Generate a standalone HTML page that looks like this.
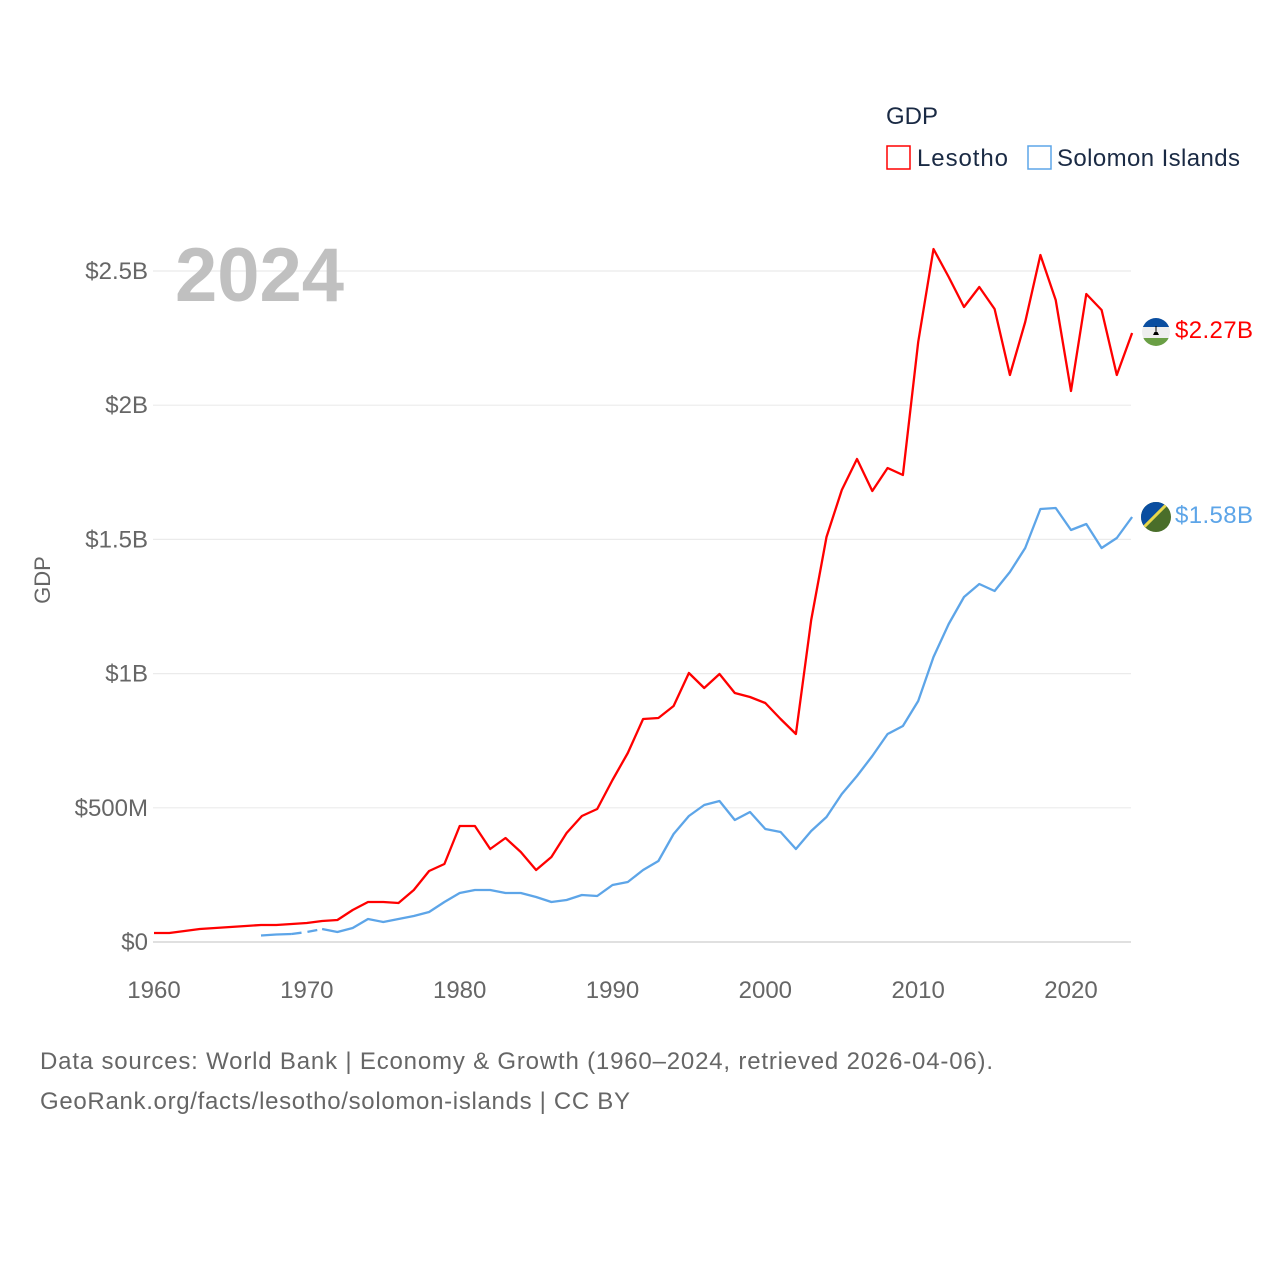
<!DOCTYPE html>
<html><head><meta charset="utf-8">
<style>
html,body{margin:0;padding:0;background:#fff;}
body{width:1280px;height:1280px;overflow:hidden;font-family:"Liberation Sans",sans-serif;}
svg text{font-family:"Liberation Sans",sans-serif;}
</style></head>
<body>
<svg id="chart" width="1280" height="1280" viewBox="0 0 1280 1280">
  <g id="grid"></g>
  <g id="yticks"></g>
  <g id="xticks"></g>
  <text x="175" y="301" font-size="76" font-weight="bold" fill="#c0c0c0">2024</text>
  <text x="50" y="580" font-size="22" fill="#666" transform="rotate(-90 50 580)" text-anchor="middle">GDP</text>
  <g id="series"></g>
  <g>
    <text x="886" y="124" font-size="24" fill="#1a2a44">GDP</text>
    <g>
      <rect x="887" y="146" width="23" height="23" fill="none" stroke="#ff0000" stroke-width="1.5"/>
      <text x="917" y="166" font-size="24" fill="#1a2a44" textLength="91">Lesotho</text>
    </g>
    <g>
      <rect x="1028" y="146" width="23" height="23" fill="none" stroke="#5da5e8" stroke-width="1.5"/>
      <text x="1057" y="166" font-size="24" fill="#1a2a44" textLength="183">Solomon Islands</text>
    </g>
  </g>
  <g>
    <clipPath id="c1"><circle cx="1156" cy="332" r="14"/></clipPath>
    <g clip-path="url(#c1)">
      <rect x="1142" y="318" width="28" height="9" fill="#0a4ea0"/>
      <rect x="1142" y="327" width="28" height="11" fill="#eee"/>
      <rect x="1142" y="338" width="28" height="8" fill="#6a9f45"/>
      <path d="M1153 335h6l-1.5-3h-3z M1155.5 326h1v6h-1z" fill="#000"/>
    </g>
  </g>
  <text x="1175" y="338" font-size="24" fill="#ff0000" textLength="78">$2.27B</text>
  <g>
    <clipPath id="c2"><circle cx="1156" cy="517" r="15"/></clipPath>
    <g clip-path="url(#c2)">
      <rect x="1141" y="502" width="30" height="30" fill="#4a6e2a"/>
      <path d="M1141 502h30L1141 532z" fill="#0a4ea0"/>
      <path d="M1170 501L1140 531" stroke="#e8d84a" stroke-width="3"/>
    </g>
  </g>
  <text x="1175" y="523" font-size="24" fill="#5da5e8" textLength="78">$1.58B</text>
  <text x="40" y="1069" font-size="24" fill="#666" textLength="953">Data sources: World Bank | Economy &amp; Growth (1960–2024, retrieved 2026-04-06).</text>
  <text x="40" y="1109" font-size="24" fill="#666" textLength="590">GeoRank.org/facts/lesotho/solomon-islands | CC BY</text>
</svg>
<script>
const years = [];
for (let y = 1960; y <= 2024; y++) years.push(y);
const lesothoPx = [933,933,931,929,928,927,926,925,925,924,923,921,920,910,902,902,903,890,871,864,826,826,849,838,852,870,857,833,816,809,780,753,719,718,706,673,688,674,693,697,703,719,734,620,537,490,459,491,468,475,342,249,277,307,287,309,375,322,255,300,391,294,310,375,333];
const lesotho = lesothoPx.map(p => (942 - p) / 268.4);
const solomonYears = [1967,1968,1969,1970,1971,1972,1973,1974,1975,1976,1977,1978,1979,1980,1981,1982,1983,1984,1985,1986,1987,1988,1989,1990,1991,1992,1993,1994,1995,1996,1997,1998,1999,2000,2001,2002,2003,2004,2005,2006,2007,2008,2009,2010,2011,2012,2013,2014,2015,2016,2017,2018,2019,2020,2021,2022,2023,2024];
const solomonPx = [935.5,934.5,934,932,929,932,928,919,922,919,916,912,902,893,890,890,893,893,897,902,900,895,896,885,882,870,861,834,816,805,801,820,812,829,832,849,831,817,794,776,756,734,726,701,657,624,597,584,591,572,548,509,508,530,524,548,538,517];
const solomon = solomonPx.map(p => (942 - p) / 268.4);
const yTicks = [0, 0.5, 1, 1.5, 2, 2.5];
const yTickLabels = ["$0", "$500M", "$1B", "$1.5B", "$2B", "$2.5B"];
const xTicks = [1960, 1970, 1980, 1990, 2000, 2010, 2020];

const NS = "http://www.w3.org/2000/svg";
const X = yr => 154 + (yr - 1960) * (1071 - 154) / 60;
const Y = v => 942 - v * 268.4;

const grid = document.getElementById('grid');
const yt = document.getElementById('yticks');
yTicks.forEach((v, i) => {
  const l = document.createElementNS(NS, 'line');
  l.setAttribute('x1', 153); l.setAttribute('x2', 1131);
  l.setAttribute('y1', Y(v)); l.setAttribute('y2', Y(v));
  l.setAttribute('stroke', i === 0 ? '#e0e0e0' : '#ebebeb'); l.setAttribute('stroke-width', i === 0 ? 2 : 1.2);
  
  
  grid.appendChild(l);
  const t = document.createElementNS(NS, 'text');
  t.setAttribute('x', 148); t.setAttribute('y', Y(v) + 8);
  t.setAttribute('text-anchor', 'end'); t.setAttribute('font-size', '24'); t.setAttribute('fill', '#666');
  t.textContent = yTickLabels[i];
  
  
  yt.appendChild(t);
});
const xt = document.getElementById('xticks');
xTicks.forEach(yr => {
  const t = document.createElementNS(NS, 'text');
  t.setAttribute('x', X(yr)); t.setAttribute('y', 998);
  t.setAttribute('text-anchor', 'middle'); t.setAttribute('font-size', '24'); t.setAttribute('fill', '#666');
  t.textContent = yr;
  
  
  xt.appendChild(t);
});

const series = document.getElementById('series');
function addLine(xs, vs, color, name) {
  const p = document.createElementNS(NS, 'polyline');
  p.setAttribute('points', xs.map((yr, i) => X(yr).toFixed(1) + ',' + Y(vs[i]).toFixed(1)).join(' '));
  p.setAttribute('fill', 'none'); p.setAttribute('stroke', color); p.setAttribute('stroke-width', 2.3);
  p.setAttribute('stroke-linejoin', 'round');
  
  
  series.appendChild(p);
}
addLine(years, lesotho, '#ff0000', 'lesotho-line');
addLine(solomonYears.slice(0, 3), solomon.slice(0, 3), '#5da5e8', 'solomon-islands-line-early');
const gx = solomonYears.slice(2, 5), gv = solomon.slice(2, 5);
const d = document.createElementNS(NS, 'polyline');
d.setAttribute('points', gx.map((yr, i) => X(yr).toFixed(1) + ',' + Y(gv[i]).toFixed(1)).join(' '));
d.setAttribute('fill', 'none'); d.setAttribute('stroke', '#5da5e8'); d.setAttribute('stroke-width', 2.3);
d.setAttribute('stroke-dasharray', '10 6');


series.appendChild(d);
addLine(solomonYears.slice(4), solomon.slice(4), '#5da5e8', 'solomon-islands-line');
</script>
</body></html>
